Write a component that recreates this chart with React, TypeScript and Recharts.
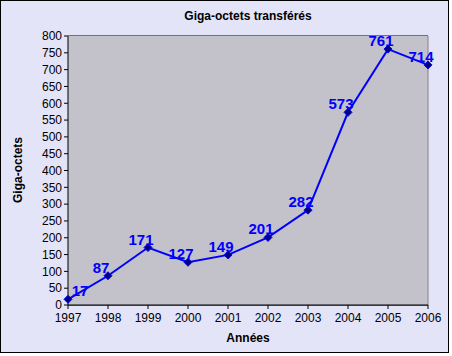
import { CartesianGrid, Line, LineChart, XAxis, YAxis } from "recharts";

const years = [1997, 1998, 1999, 2000, 2001, 2002, 2003, 2004, 2005, 2006];
const gigaOctets = [17, 87, 171, 127, 149, 201, 282, 573, 761, 714];
const yTicks = [0, 50, 100, 150, 200, 250, 300, 350, 400, 450, 500, 550, 600, 650, 700, 750, 800];

const data = years.map((year, i) => ({ year, value: gigaOctets[i] }));

const font = "Arial, 'Liberation Sans', sans-serif";

const Diamond = (props: any) => {
  const { cx, cy } = props;
  if (cx == null || cy == null) return null;
  const r = 4;
  return (
    <path
      d={`M${cx},${cy - r} L${cx + r},${cy} L${cx},${cy + r} L${cx - r},${cy} Z`}
      fill="#000080"
      stroke="#0000ff"
      strokeWidth={1}
    />
  );
};

const ValueLabel = (props: any) => {
  const { x, y, value } = props;
  const lx = Math.max(x - 7, 80);
  return (
    <text
      x={lx}
      y={y - 3}
      textAnchor="middle"
      fill="#0000ff"
      fontSize={15}
      fontWeight="bold"
      fontFamily={font}
    >
      {value}
    </text>
  );
};

const App = () => {
  return (
    <div style={{ position: "absolute", left: 0, top: 0, width: 452, height: 356, background: "#fff" }}>
      <div
        style={{
          position: "absolute",
          left: 0,
          top: 0,
          width: 447,
          height: 351,
          background: "#e4e4f8",
          border: "1px solid #000",
        }}
      />
      <div style={{ position: "absolute", left: 0, top: 0 }}>
        <LineChart
          width={452}
          height={356}
          data={data}
          margin={{ top: 36, right: 24, bottom: 21, left: 0 }}
        >
          <rect x={68} y={36} width={360} height={269} fill="#c3c1c9" />
          <CartesianGrid vertical={false} stroke="#000" strokeOpacity={1} />
          <line x1={428} y1={36} x2={428} y2={305} stroke="#808080" />
          <text x={248} y={20} textAnchor="middle" fontSize={12} fontWeight="bold" fontFamily={font} fill="#000">
            Giga-octets transférés
          </text>
          <text x={248} y={342} textAnchor="middle" fontSize={12} fontWeight="bold" fontFamily={font} fill="#000">
            Années
          </text>
          <text
            x={22}
            y={170}
            textAnchor="middle"
            fontSize={12}
            fontWeight="bold"
            fontFamily={font}
            fill="#000"
            transform="rotate(-90 22 170)"
          >
            Giga-octets
          </text>
          <XAxis
            dataKey="year"
            type="number"
            domain={[1997, 2006]}
            ticks={years}
            height={30}
            stroke="#000"
            tickSize={4}
            tickMargin={4}
            tick={{ fill: "#000", fontSize: 12, fontFamily: font }}
          />
          <YAxis
            domain={[0, 800]}
            ticks={yTicks}
            width={68}
            stroke="#000"
            tickSize={4}
            interval={0}
            tick={{ fill: "#000", fontSize: 12, fontFamily: font }}
          />
          <Line
            dataKey="value"
            stroke="#0000ff"
            strokeWidth={2}
            dot={<Diamond />}
            activeDot={false}
            label={<ValueLabel />}
            isAnimationActive={false}
          />
        </LineChart>
      </div>
    </div>
  );
};

export default App;
